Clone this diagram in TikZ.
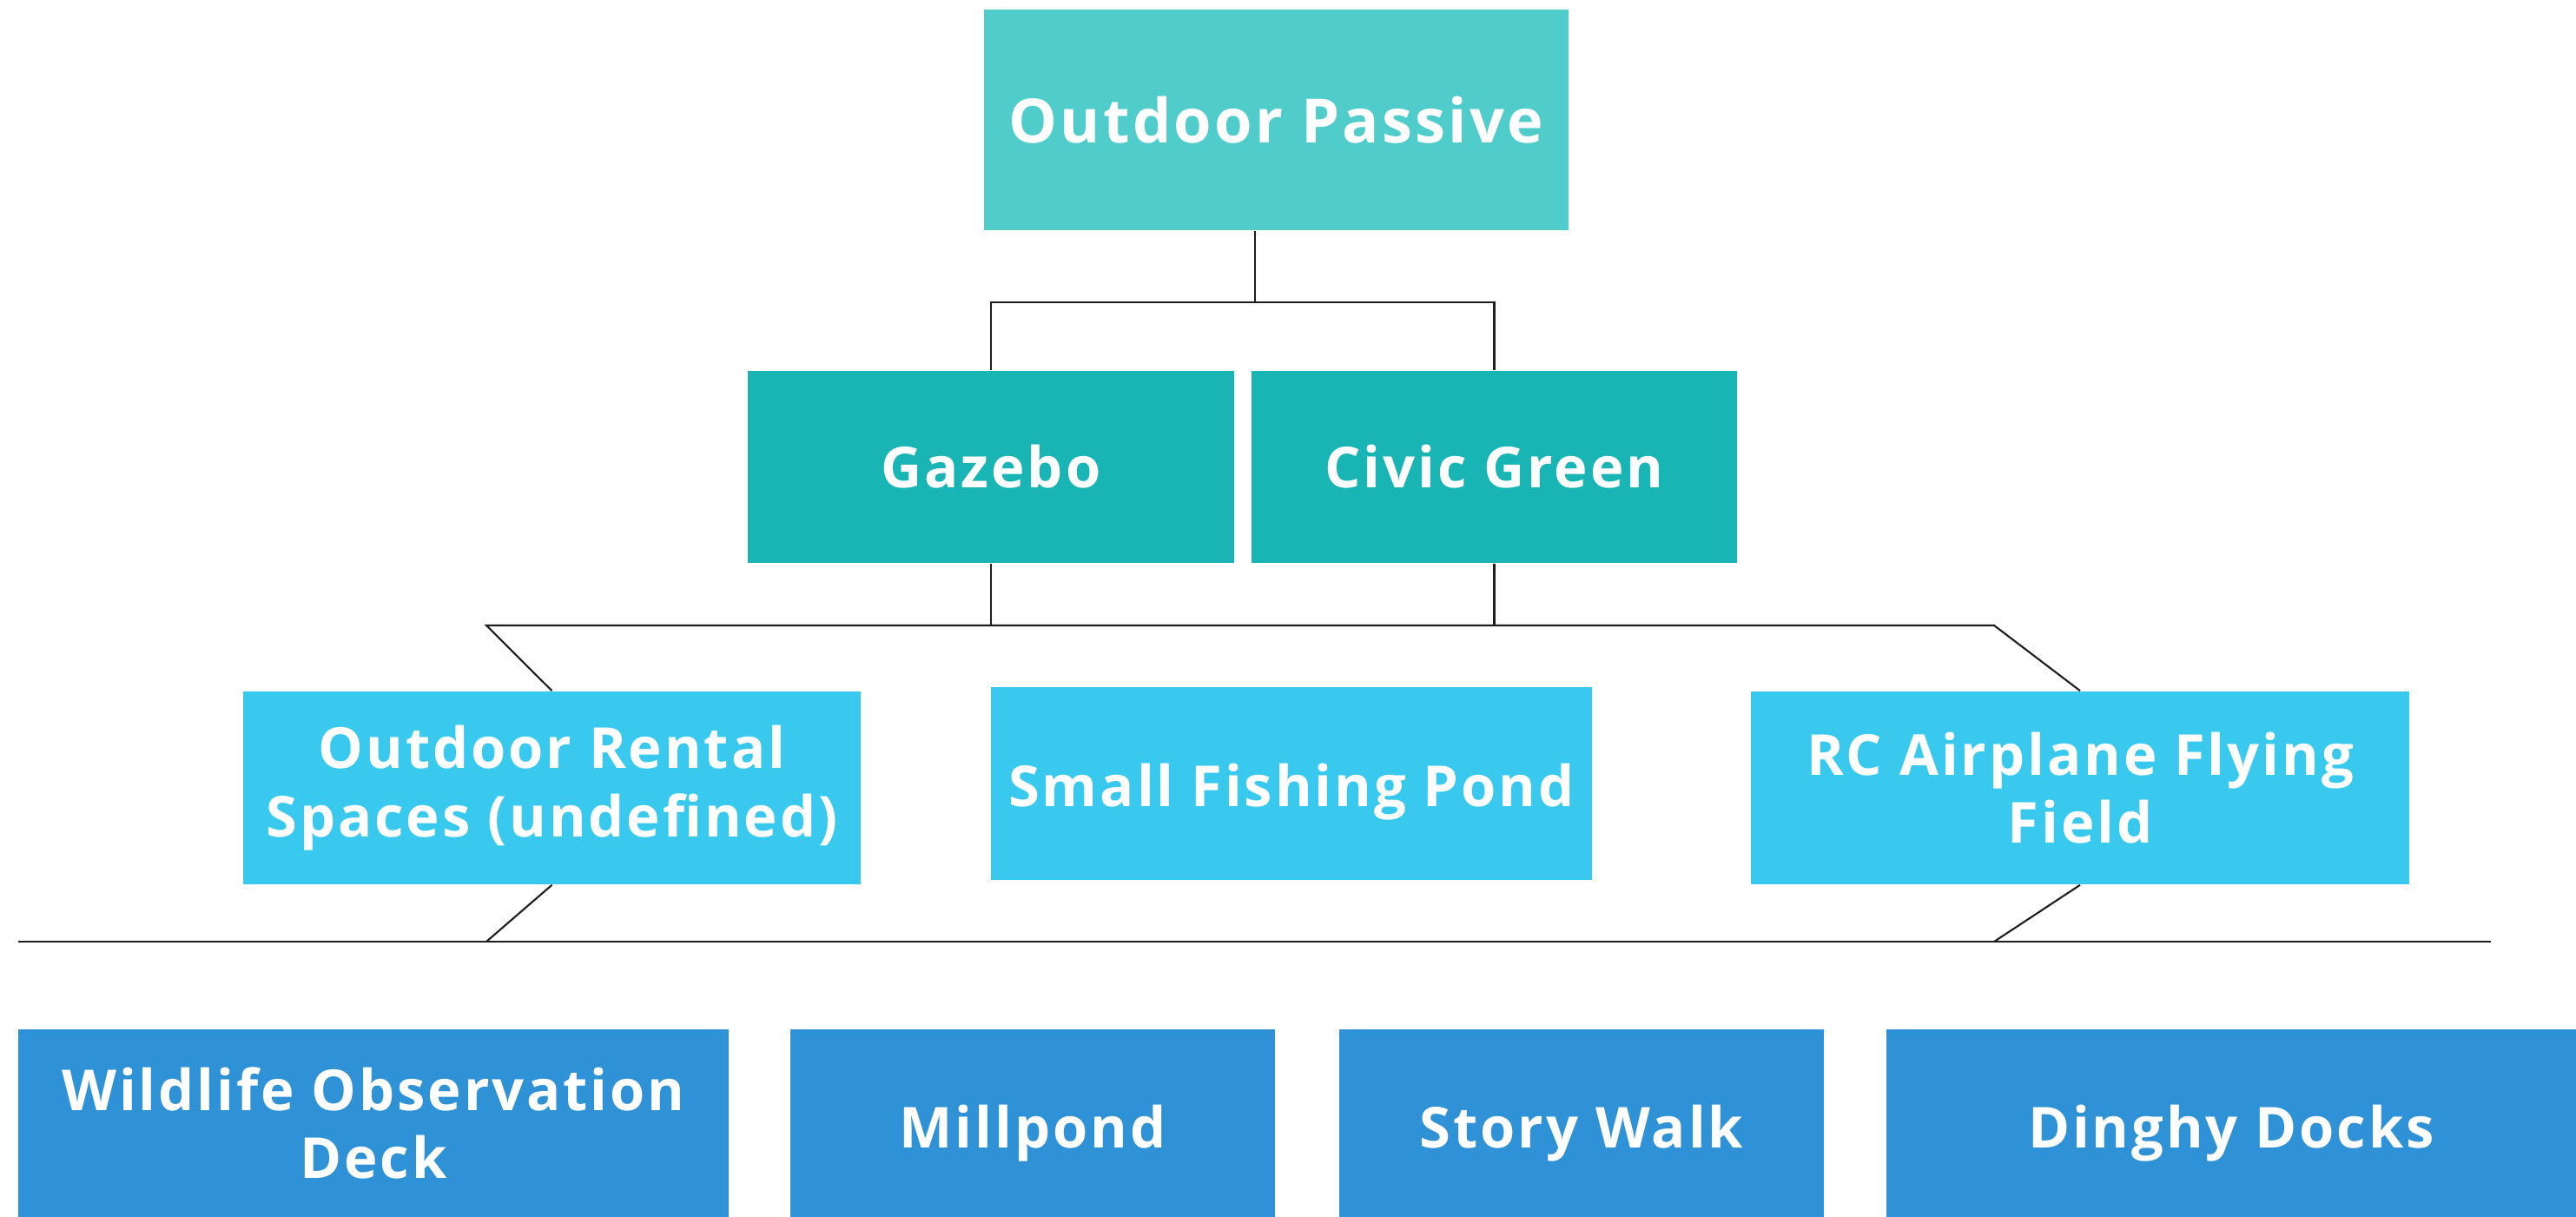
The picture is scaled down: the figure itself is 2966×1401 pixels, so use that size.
\documentclass[tikz,border=0pt]{standalone}
\usepackage{fontspec}
\setmainfont{Open Sans}[LetterSpace=4.5]
\usepackage{tikz}

\begin{document}
\begin{tikzpicture}[x=0.01cm,y=-0.01cm,
		box/.style={inner sep=0pt,text=white,font=\bfseries\fontsize{18.5}{22.3}\selectfont,align=center},
		toprow/.style={box,fill={rgb,255:red,80;green,205;blue,203},font=\bfseries\fontsize{20}{24}\selectfont},
		midrow/.style={box,fill={rgb,255:red,25;green,180;blue,180}},
		lowrow/.style={box,fill={rgb,255:red,58;green,201;blue,238}},
		baserow/.style={box,fill={rgb,255:red,47;green,146;blue,214},text height=16pt,text depth=0pt},
		lowsingle/.style={text height=15pt,text depth=0pt},
		link/.style={draw={rgb,255:red,30;green,30;blue,30},line width=0.6pt}]
			\useasboundingbox (0,0) rectangle (2966,1401);
			\node[toprow,minimum width=6.73cm,minimum height=2.54cm] (passive) at (1469.5,138) {Outdoor Passive};
			\node[midrow,minimum width=5.6cm,minimum height=2.21cm] (gazebo) at (1141,537.5) {Gazebo};
			\node[midrow,minimum width=5.59cm,minimum height=2.21cm] (civic) at (1720.5,537.5) {Civic Green};
			\node[lowrow,minimum width=7.11cm,minimum height=2.22cm] (rental) at (635.5,907) {Outdoor Rental\\Spaces (undefined)};
			\node[lowrow,lowsingle,minimum width=6.92cm,minimum height=2.22cm] (pond) at (1487,902) {Small Fishing Pond};
			\node[lowrow,minimum width=7.58cm,minimum height=2.22cm] (rc) at (2395,907) {RC Airplane Flying\\Field};
			\node[baserow,text height=,text depth=,minimum width=8.18cm,minimum height=2.16cm] (wildlife) at (430,1293) {Wildlife Observation\\Deck};
			\node[baserow,minimum width=5.58cm,minimum height=2.16cm] (millpond) at (1189,1293) {Millpond};
			\node[baserow,minimum width=5.58cm,minimum height=2.16cm] (story) at (1821,1293) {Story Walk};
			\node[baserow,minimum width=7.94cm,minimum height=2.16cm] (dinghy) at (2569,1293) {Dinghy Docks};
			\coordinate (split) at (1445,348);
			\coordinate (joinL) at (560,720);
			\coordinate (joinR) at (2296,720);
			\coordinate (footL) at (560,1084);
			\coordinate (footR) at (2296,1084);
			\coordinate (baseL) at (21,1084);
			\coordinate (baseR) at (2868,1084);
			\draw[link] (passive.south -| split) -- (split);
			\draw[link] (gazebo.north) -- (gazebo.north |- split) -- (civic.north |- split) -- (civic.north);
			\draw[link] (gazebo.south) -- (gazebo.south |- joinL);
			\draw[link] (civic.south) -- (civic.south |- joinL);
			\draw[link] (rental.north) -- (joinL) -- (joinR) -- (rc.north);
			\draw[link] (rental.south) -- (footL);
			\draw[link] (rc.south) -- (footR);
			\draw[link] (baseL) -- (baseR);
		\end{tikzpicture}
\end{document}
